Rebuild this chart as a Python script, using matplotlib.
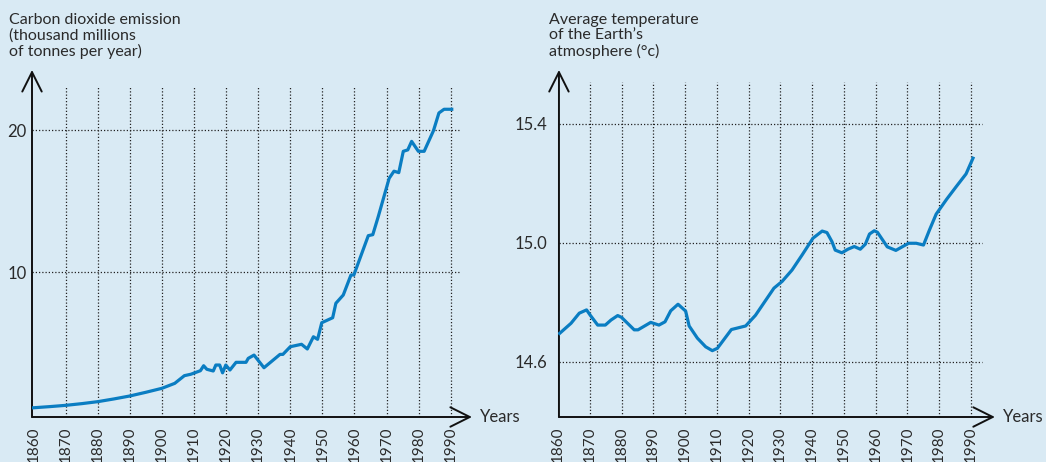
import numpy as np
import matplotlib.pyplot as plt

plt.rcParams["font.family"] = ["Lato", "DejaVu Sans"]

BG = "#d9eaf4"
LINE = "#0a7dc2"
TXT = "#2a2a2a"

# carbon dioxide emission, thousand millions of tonnes per year
co2_years = [1860, 1865, 1870, 1875, 1880, 1885, 1890, 1895, 1900, 1904, 1907, 1909,
             1912, 1913, 1914, 1916, 1916.8, 1918, 1918.9, 1919.9, 1921.2, 1923.1,
             1926.2, 1926.9, 1928.7, 1931.8, 1936.8, 1937.7, 1940, 1943.5, 1945.3,
             1947.2, 1948.5, 1949.8, 1953.2, 1954.2, 1956.5, 1958.9, 1959.8, 1964.3,
             1965.7, 1967.4, 1970.8, 1972.3, 1973.8, 1975.2, 1976.6, 1977.8, 1979.9,
             1981.7, 1984.6, 1986.3, 1987.9, 1990.3]
co2_values = [0.44, 0.52, 0.61, 0.73, 0.87, 1.06, 1.27, 1.53, 1.81, 2.16, 2.7, 2.8,
              3.05, 3.4, 3.15, 3.03, 3.45, 3.45, 2.9, 3.45, 3.1, 3.64,
              3.64, 3.92, 4.15, 3.26, 4.2, 4.2, 4.74, 4.91, 4.58,
              5.44, 5.26, 6.43, 6.78, 7.8, 8.38, 9.79, 9.79, 12.56,
              12.63, 13.9, 16.6, 17.1, 17.0, 18.5, 18.6, 19.2, 18.5,
              18.5, 19.95, 21.2, 21.46, 21.46]

# average temperature of the atmosphere, deg C
temp_years = [1860.5, 1864.1, 1866.7, 1869.0, 1870.1, 1872.5, 1874.9, 1876.7, 1878.8,
              1880, 1884, 1885.2, 1889.2, 1891.8, 1893.7, 1895.5, 1897.8, 1900.2,
              1901.3, 1903.9, 1906.5, 1908.6, 1910.2, 1914.6, 1919.1, 1922.2, 1928,
              1930.6, 1933.7, 1936.9, 1940.3, 1943.2, 1944.7, 1946.3, 1947.3, 1949.4,
              1951.3, 1953.3, 1955.2, 1956.8, 1958.1, 1959.6, 1960.6, 1963.7, 1966.4,
              1970.4, 1972.8, 1975.1, 1977, 1979.1, 1982.4, 1985.6, 1988.5, 1990.7]
temp_values = [14.696, 14.73, 14.764, 14.775, 14.758, 14.724, 14.724, 14.741, 14.756,
               14.75, 14.708, 14.708, 14.733, 14.724, 14.735, 14.772, 14.794, 14.771,
               14.721, 14.68, 14.651, 14.638, 14.646, 14.709, 14.721, 14.757, 14.848,
               14.871, 14.909, 14.96, 15.016, 15.04, 15.035, 15.004, 14.976, 14.967,
               14.979, 14.988, 14.979, 14.996, 15.03, 15.041, 15.036, 14.987, 14.975,
               14.999, 14.999, 14.993, 15.044, 15.097, 15.147, 15.192, 15.232, 15.285]

tick_years = list(range(1860, 2000, 10))
co2_ticks = [10, 20]
co2_ticklabels = ["10", "20"]
temp_ticks = [14.6, 15.0, 15.4]
temp_ticklabels = ["14.6", "15.0", "15.4"]

co2_title = "Carbon dioxide emission\n(thousand millions\nof tonnes per year)"
temp_title = "Average temperature\nof the Earth\u2019s\natmosphere (\u00b0c)"

W, H = 1046, 462
fig = plt.figure(figsize=(W / 100, H / 100), dpi=100, facecolor=BG)


def make_panel(rect, xlim, ylim, xs, ys, yticks, yticklabels, ypad,
               hgrid_end, vgrid_top, xarrow_end, yarrow_top, title, title_x):
    ax = fig.add_axes(rect)
    ax.set_facecolor(BG)
    ax.set_xlim(*xlim)
    ax.set_ylim(*ylim)
    for s in ax.spines.values():
        s.set_visible(False)

    x0, y0 = xlim[0], ylim[0]
    # dotted grid
    for yr in tick_years[1:]:
        ax.plot([yr, yr], [y0, vgrid_top], color="#222222", lw=0.9,
                ls=(0, (1, 1.6)), zorder=1)
    for v in yticks:
        ax.plot([x0, hgrid_end], [v, v], color="#222222", lw=0.9,
                ls=(0, (1, 1.6)), zorder=1)

    # axes with open arrow heads
    arrow = dict(arrowstyle="->,head_length=1.4,head_width=0.7", lw=1.4,
                 color="#111111", shrinkA=0, shrinkB=0)
    ax.annotate("", xy=(xarrow_end, y0), xytext=(x0, y0), arrowprops=arrow,
                annotation_clip=False)
    ax.annotate("", xy=(x0, yarrow_top), xytext=(x0, y0), arrowprops=arrow,
                annotation_clip=False)

    ax.plot(xs, ys, color=LINE, lw=2.3, zorder=3, solid_joinstyle="round")

    ax.set_xticks(tick_years)
    ax.set_xticklabels([str(y) for y in tick_years], rotation=90, va="top",
                       color=TXT, fontsize=11)
    ax.set_yticks(yticks)
    ax.set_yticklabels(yticklabels, color=TXT, fontsize=12)
    ax.tick_params(axis="x", length=0, pad=7)
    ax.tick_params(axis="y", length=0, pad=ypad)

    ax.annotate("Years", xy=(xarrow_end, y0), xytext=(6, 0),
                textcoords="offset points", va="center", ha="left",
                fontsize=12, color=TXT, annotation_clip=False)
    fig.text(title_x / W, 1 - 13 / H, title, ha="left", va="top",
             fontsize=11.5, color=TXT, linespacing=1.12)
    return ax


bottom = 45 / H
height = 357 / H

make_panel([32 / W, bottom, 448 / W, height], (1859.53, 1999.1), (-0.21, 24.93),
           co2_years, co2_values, co2_ticks, co2_ticklabels, 4,
           1992.9, 23.0, 1996.6, 24.23, co2_title, 9)

make_panel([558 / W, bottom, 442 / W, height], (1860.3, 1999.2), (14.415, 15.615),
           temp_years, temp_values, temp_ticks, temp_ticklabels, 8,
           1993.5, 15.541, 1997.6, 15.5815, temp_title, 549)

fig.savefig("out.png", dpi=100, facecolor=BG)
